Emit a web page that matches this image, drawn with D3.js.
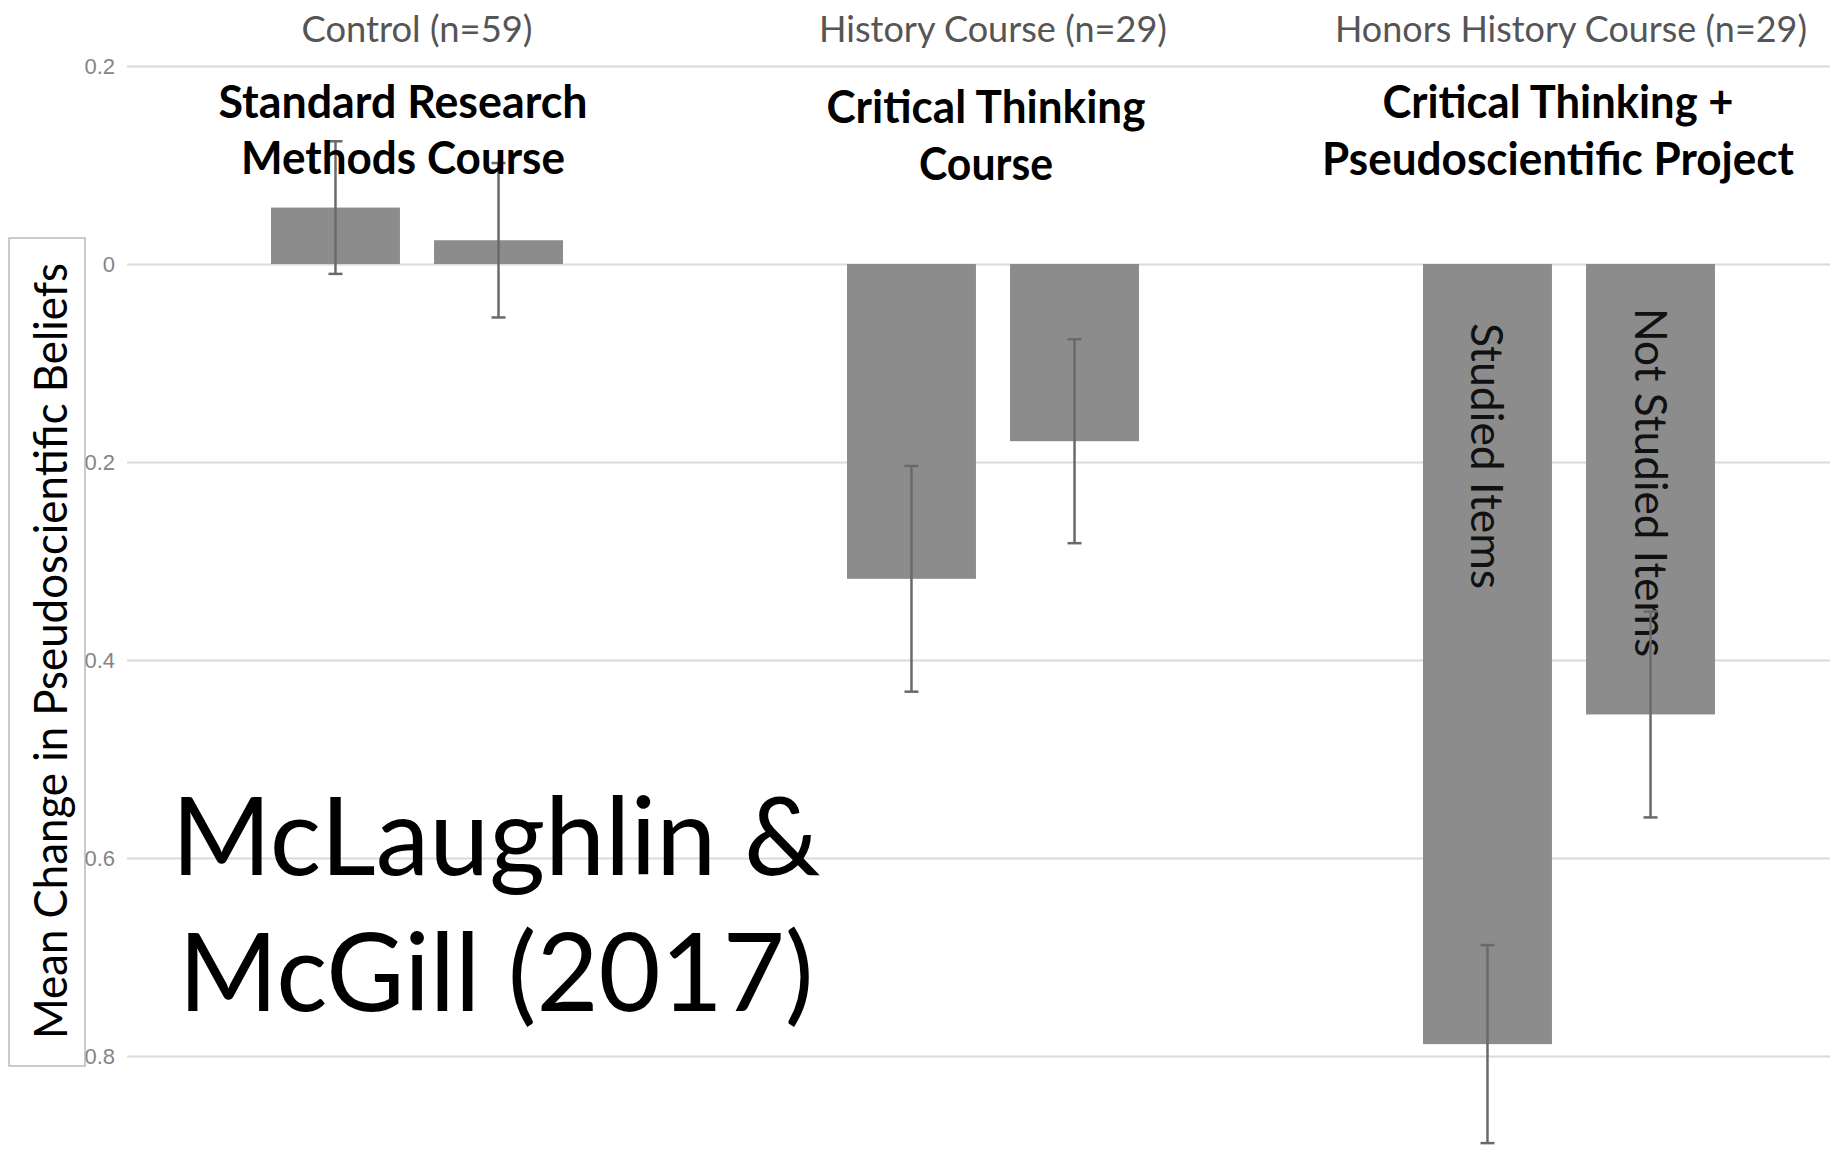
<!DOCTYPE html>
<html><head><meta charset="utf-8">
<script src="https://cdn.jsdelivr.net/npm/d3@7"></script>
<style>html,body{margin:0;padding:0;background:#fff;}svg{display:block;}</style>
</head><body>
<svg id="chart" width="1830" height="1149"></svg>
<script>
// ---- data ----
const groups = ["Control (n=59)", "History Course (n=29)", "Honors History Course (n=29)"];
const itemTypes = ["Studied Items", "Not Studied Items"];
const studiedMeans = [0.057, -0.318, -0.788];
const notStudiedMeans = [0.024, -0.179, -0.455];
const studiedErr = [0.067, 0.114, 0.100];
const notStudiedErr = [0.078, 0.103, 0.104];
const yTicks = [0.2, 0, -0.2, -0.4, -0.6, -0.8];
const courseLabels = [["Standard Research", "Methods Course"], ["Critical Thinking", "Course"], ["Critical Thinking +", "Pseudoscientific Project"]];
const yAxisTitle = "Mean Change in Pseudoscientific Beliefs";
const citation = ["McLaughlin &", "McGill (2017)"];

// ---- build ----
const W = 1830, H = 1149;
const svg = d3.select("#chart");
const x0 = d3.scaleBand().domain(groups).range([129, 1857]).padding(0);
const x1 = d3.scaleBand().domain(itemTypes).range([142, 434]).paddingInner(0.209).paddingOuter(0);
const y = d3.scaleLinear().domain([-0.8, 0.2]).range([1056, 66]);

const rows = [];
groups.forEach((g, i) => {
  rows.push({g, t: itemTypes[0], v: studiedMeans[i], e: studiedErr[i]});
  rows.push({g, t: itemTypes[1], v: notStudiedMeans[i], e: notStudiedErr[i]});
});

// gridlines + tick labels
const yAxis = d3.axisLeft(y).tickValues(yTicks).tickSize(-(W - 127)).tickPadding(12)
  .tickFormat(d => d === 0 ? "0" : d3.format(".1f")(d));
const ga = svg.append("g").attr("transform", "translate(127,0)").call(yAxis);
ga.select(".domain").remove();
ga.selectAll(".tick line").attr("stroke", "#dadada").attr("stroke-width", 2);
ga.selectAll(".tick text").attr("fill", "#858585").attr("font-size", 22)
  .attr("font-family", "Liberation Sans, Arial, sans-serif");

// bars
const gx = d => x0(d.g) + x1(d.t);
svg.append("g").selectAll("rect").data(rows).join("rect")
  .attr("x", gx)
  .attr("width", x1.bandwidth())
  .attr("y", d => y(Math.max(0, d.v)))
  .attr("height", d => Math.abs(y(d.v) - y(0)))
  .attr("fill", "#8c8c8c");

// in-bar vertical labels (group 3)
const lastG = groups[2];
const vLab = [
  {t: itemTypes[0], y0: 323, len: 266},
  {t: itemTypes[1], y0: 308, len: 349}
];
svg.append("g").selectAll("text").data(vLab).join("text")
  .attr("transform", d => `translate(${x0(lastG) + x1(d.t) + x1.bandwidth() / 2 - 16},${d.y0}) rotate(90)`)
  .attr("font-family", "Lato, sans-serif").attr("font-size", 44).attr("fill", "#111")
  .attr("textLength", d => d.len).attr("lengthAdjust", "spacingAndGlyphs")
  .text(d => d.t);

// error bars
const eb = svg.append("g").attr("stroke", "#6a6a6a").attr("stroke-width", 2.5);
rows.forEach(d => {
  const cx = gx(d) + x1.bandwidth() / 2;
  eb.append("line").attr("x1", cx).attr("x2", cx).attr("y1", y(d.v + d.e)).attr("y2", y(d.v - d.e));
  eb.append("line").attr("x1", cx - 7).attr("x2", cx + 7).attr("y1", y(d.v + d.e)).attr("y2", y(d.v + d.e));
  eb.append("line").attr("x1", cx - 7).attr("x2", cx + 7).attr("y1", y(d.v - d.e)).attr("y2", y(d.v - d.e));
});

// group titles
const titleLen = [231, 348, 472];
svg.append("g").selectAll("text").data(groups).join("text")
  .attr("x", d => x0(d) + x0.bandwidth() / 2 - (d === groups[2] ? -2 : 0))
  .attr("y", 42)
  .attr("text-anchor", "middle")
  .attr("font-family", "Lato, sans-serif").attr("font-size", 37).attr("fill", "#555")
  .attr("textLength", (d, i) => titleLen[i]).attr("lengthAdjust", "spacingAndGlyphs")
  .text(d => d);

// course labels (bold)
const courseCx = [403, 986, 1558];
const courseBase = [[118, 174], [123, 180], [118, 175]];
const courseLen = [[369, 324], [319, 134], [351, 472]];
courseLabels.forEach((lines, i) => {
  lines.forEach((ln, j) => {
    svg.append("text").attr("x", courseCx[i]).attr("y", courseBase[i][j])
      .attr("text-anchor", "middle").attr("font-family", "Lato, sans-serif")
      .attr("font-weight", "bold").attr("font-size", 45).attr("fill", "#000")
      .attr("textLength", courseLen[i][j]).attr("lengthAdjust", "spacingAndGlyphs")
      .text(ln);
  });
});

// y-axis title box
svg.append("rect").attr("x", 9).attr("y", 238).attr("width", 76).attr("height", 828)
  .attr("fill", "#fff").attr("stroke", "#a8a8a8").attr("stroke-width", 1.2);
svg.append("text").attr("transform", "translate(67,651) rotate(-90)")
  .attr("text-anchor", "middle").attr("font-family", "Lato, sans-serif")
  .attr("font-size", 46).attr("fill", "#000")
  .attr("textLength", 776).attr("lengthAdjust", "spacingAndGlyphs")
  .text(yAxisTitle);

// citation
const citeBase = [875, 1011];
const citeLen = [649, 635];
citation.forEach((ln, i) => {
  svg.append("text").attr("x", 496).attr("y", citeBase[i]).attr("text-anchor", "middle")
    .attr("font-family", "Lato, sans-serif").attr("font-size", 108).attr("fill", "#000")
    .attr("textLength", citeLen[i]).attr("lengthAdjust", "spacingAndGlyphs")
    .text(ln);
});
</script>
</body></html>
